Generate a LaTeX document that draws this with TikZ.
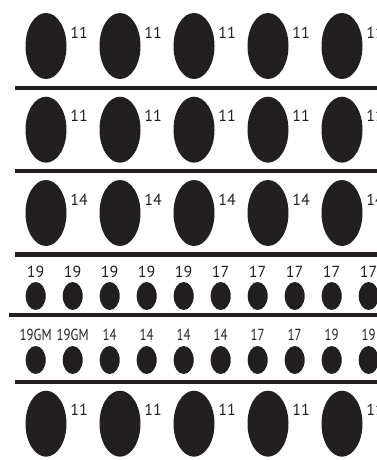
\documentclass[tikz,border=0pt]{standalone}
\usepackage{fontspec}
\setsansfont{PT Sans}
\usetikzlibrary{shapes.geometric,positioning}
\definecolor{inkcol}{HTML}{231F20}
\newcommand{\narrowlab}[1]{\scalebox{0.8}[1]{#1}}

\begin{document}
\begin{tikzpicture}[
  x=1pt, y=-1pt, font=\sffamily\fontsize{16}{16}\selectfont,
  bigpit/.style={ellipse, fill=inkcol, inner sep=0pt, minimum width=41pt, minimum height=66pt},
  smallpit/.style={ellipse, fill=inkcol, inner sep=0pt, minimum width=20pt, minimum height=28pt},
  pitlabel/.style={text=inkcol, inner sep=0pt},
  rowrule/.style={draw=inkcol, line width=4.5pt}
]
\useasboundingbox (0,0) rectangle (377,460);
\clip (0,0) rectangle (377,460);

% large pits, one row per line: row/centre y
\foreach \r/\cy/\lab in {1/46/11, 2/129.7/11, 3/213/14, 6/423.7/11} {
  \foreach \i in {1,...,5} {
    \node[bigpit] (pit-\r-\i) at ({46+74*(\i-1)},\cy) {};
    \node[pitlabel] (lab-\r-\i) at ({79+74*(\i-1)},{\cy-13.5}) {\lab};
  }
}

% small pits with their sizes above
\foreach \lab [count=\i] in {19,19,19,19,19,17,17,17,17,17} {
  \node[smallpit] (pit-4-\i) at ({35.7+37*(\i-1)},296) {};
  \node[pitlabel] (lab-4-\i) at ({35.7+37*(\i-1)},271.7) {\lab};
}
\foreach \lab [count=\i] in {19GM,19GM,14,14,14,14,17,17,19,19} {
  \node[smallpit] (pit-5-\i) at ({35.7+37*(\i-1)},360) {};
  \node[pitlabel] (lab-5-\i) at ({35.7+37*(\i-1)},335) {\narrowlab{\lab}};
}

% separating rules
\foreach \ry/\rx in {88/15, 171/15, 254.5/15, 315/9, 382/15}
  \draw[rowrule] (\rx,\ry) -- (377,\ry);
\end{tikzpicture}
\end{document}
